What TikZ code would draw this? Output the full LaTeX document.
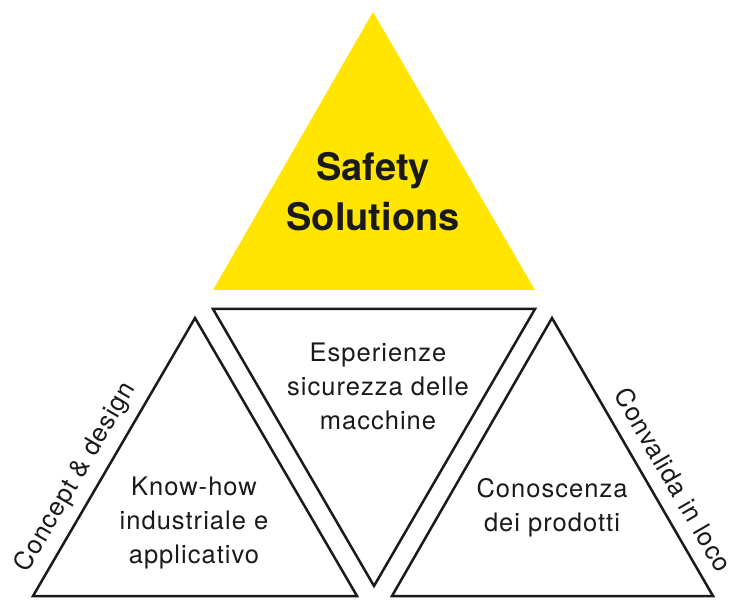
\documentclass[tikz,border=0pt]{standalone}
\usepackage{fontspec}
\setmainfont{TeX Gyre Heros}
\newfontfamily\spacedfont[LetterSpace=4]{TeX Gyre Heros}
\definecolor{safyellow}{RGB}{255,229,0}
\definecolor{ink}{RGB}{26,26,26}
\begin{document}
\begin{tikzpicture}[x=1pt,y=-1pt,
  tri/.style={draw=ink,line width=2.5pt,line join=miter,fill=white},
  body/.style={font=\spacedfont\fontsize{25.5}{34}\selectfont,text=ink,align=center,inner sep=0pt},
  edgelabel/.style={font=\spacedfont\fontsize{25.5}{30}\selectfont,text=ink,inner sep=0pt},
  titletext/.style={font=\fontsize{38}{50}\selectfont\bfseries,text=ink,align=center,inner sep=0pt}]
\useasboundingbox (0,0) rectangle (744,609);
% top yellow triangle
\coordinate (tA) at (373,12);
\coordinate (tL) at (213,290);
\coordinate (tR) at (535,290);
\fill[safyellow] (tA) -- (tL) -- (tR) -- cycle;
% left triangle
\coordinate (lA) at (195,318);
\coordinate (lL) at (33,596);
\coordinate (lR) at (357,596);
\draw[tri] (lA) -- (lR) -- (lL) -- cycle;
% middle inverted triangle
\coordinate (mL) at (213,309);
\coordinate (mR) at (535,309);
\coordinate (mB) at (374,586);
\draw[tri] (mL) -- (mR) -- (mB) -- cycle;
% right triangle
\coordinate (rA) at (552,318);
\coordinate (rL) at (392,596);
\coordinate (rR) at (713,596);
\draw[tri] (rA) -- (rR) -- (rL) -- cycle;
% texts
\node[titletext] (title) at (373,192) {Safety\\Solutions};
\node[body] (mid) at (378,386) {Esperienze\\sicurezza delle\\macchine};
\node[body] (left) at (194,523) {Know-how\\industriale e\\applicativo};
\node[body] (right) at (552,508) {Conoscenza\\dei prodotti};
\path (lL) -- node[edgelabel,sloped,above=10pt,pos=0.385] (concept) {Concept \& design} (lA);
\path (rA) -- node[edgelabel,sloped,above=14pt,pos=0.625] (convalida) {Convalida in loco} (rR);
\end{tikzpicture}
\end{document}
